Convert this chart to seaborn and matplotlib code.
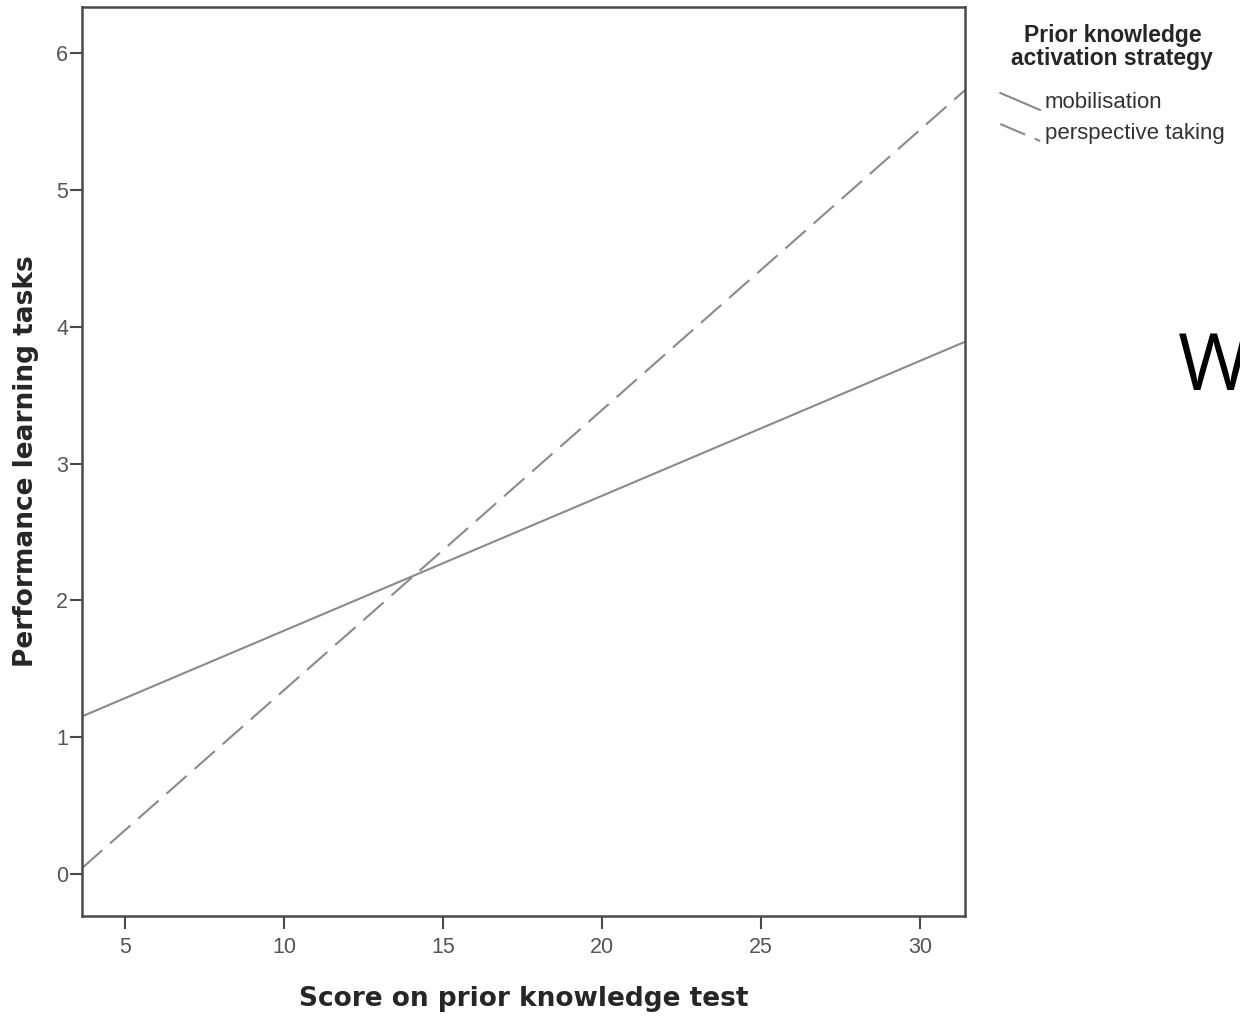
import pandas as pd
import matplotlib.pyplot as plt
import seaborn as sns
from matplotlib.lines import Line2D
from matplotlib.legend_handler import HandlerLine2D

# ── data ────────────────────────────────────────────────────
x_ends = [3.65, 31.4]
mob_y = [1.15, 3.89]
persp_y = [0.04, 5.73]
groups = ["mobilisation", "perspective taking"]
x_ticks = [5, 10, 15, 20, 25, 30]
y_ticks = [0, 1, 2, 3, 4, 5, 6]

df = pd.DataFrame({
    "score": x_ends + x_ends,
    "perf": mob_y + persp_y,
    "strategy": [groups[0]] * 2 + [groups[1]] * 2,
})


# SPSS draws its legend samples as short slanted strokes
class SlantHandler(HandlerLine2D):
    def create_artists(self, legend, orig_handle, xdescent, ydescent,
                       width, height, fontsize, trans):
        ln = Line2D([-xdescent, width - xdescent],
                    [height * 1.0 - ydescent, -height * 0.1 - ydescent])
        self.update_prop(ln, orig_handle, legend)
        ln.set_transform(trans)
        return [ln]


sns.set_theme(style="white")
plt.rcParams["font.family"] = ["Liberation Sans", "DejaVu Sans"]

fig = plt.figure(figsize=(12.4, 10.18), dpi=100)
ax = fig.add_axes([0.0661, 0.1002, 0.712, 0.893])

sns.lineplot(data=df, x="score", y="perf", style="strategy",
             dashes={groups[0]: "", groups[1]: (13, 5)},
             color="#8a8a8a", linewidth=1.5, ax=ax)

ax.set_xlim(3.65, 31.4)
ax.set_ylim(-0.31, 6.34)
ax.set_xticks(x_ticks)
ax.set_yticks(y_ticks)
ax.tick_params(axis="both", direction="out", length=9, width=1.5,
               color="#4a4a4a", labelsize=15.5, labelcolor="#555555", pad=2)
ax.tick_params(axis="x", bottom=True, pad=6)
ax.tick_params(axis="y", left=True, pad=1)
for sp in ax.spines.values():
    sp.set_color("#4a4a4a")
    sp.set_linewidth(1.8)

ax.set_xlabel("Score on prior knowledge test", fontsize=19, fontweight="bold",
              family="DejaVu Sans", labelpad=20)
ax.set_ylabel("Performance learning tasks", fontsize=19, fontweight="bold",
              family="DejaVu Sans", labelpad=12)

handles, labels = ax.get_legend_handles_labels()
leg = ax.legend(handles, labels, title="Prior knowledge\nactivation strategy",
                frameon=False, loc="upper left", bbox_to_anchor=(1.03, 0.991),
                fontsize=16, title_fontsize=16.5, handlelength=1.8,
                handletextpad=0.2, labelspacing=0.45, borderaxespad=0,
                handler_map={Line2D: SlantHandler()})
leg.get_title().set_fontweight("bold")
leg.get_title().set_ha("center")
leg.get_title().set_linespacing(1.0)
leg._legend_box.sep += 9     # a little more air under the title
for t in leg.get_texts():
    t.set_color("#333333")

fig.text(1178 / 1240, 1 - 390 / 1018, "W", fontsize=56, family="Open Sans",
         color="black", ha="left", va="baseline")

fig.savefig("out.png", dpi=100)
